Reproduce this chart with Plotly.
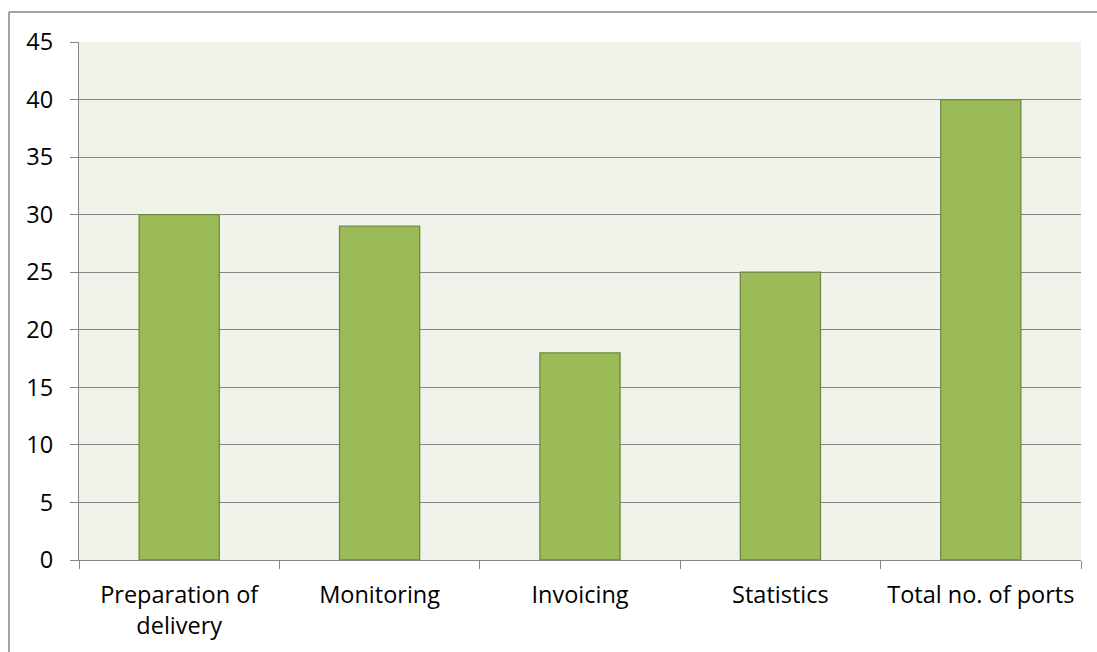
import plotly.graph_objects as go

categories = ["Preparation of<br>delivery", "Monitoring", "Invoicing", "Statistics", "Total no. of ports"]
values = [30, 29, 18, 25, 40]
y_ticks = [0, 5, 10, 15, 20, 25, 30, 35, 40, 45]

fig = go.Figure(go.Bar(
    x=categories, y=values,
    marker=dict(color="#9BBB59", line=dict(color="#71893F", width=1.3)),
    width=0.4,
))

font = dict(family="Open Sans, Lato, sans-serif", size=23.5, color="#000000")

x_border = (9 - 79) / 1002
y_border = (560 - 12) / 518

fig.update_layout(
    width=1097, height=652,
    margin=dict(l=79, r=16, t=42, b=92),
    paper_bgcolor="white",
    plot_bgcolor="#EFF3EA",
    font=font,
    showlegend=False,
    xaxis=dict(
        type="category", tickson="boundaries", ticks="outside", ticklen=8,
        tickcolor="#868686", showline=True, linecolor="#868686", linewidth=1.3,
        showgrid=False, tickfont=font, ticklabelstandoff=14,
    ),
    yaxis=dict(
        range=[0, 45], tickvals=y_ticks, ticks="outside", ticklen=8,
        tickcolor="#868686", showline=True, linecolor="#868686", linewidth=1.3,
        showgrid=True, gridcolor="#868686", gridwidth=1.3, zeroline=False,
        tickfont=font, ticklabelstandoff=12,
    ),
    shapes=[
        dict(type="line", xref="paper", yref="paper",
             x0=x_border, x1=x_border, y0=-0.5, y1=y_border,
             line=dict(color="#868686", width=1.5)),
        dict(type="line", xref="paper", yref="paper",
             x0=x_border, x1=1.2, y0=y_border, y1=y_border,
             line=dict(color="#868686", width=1.5)),
    ],
)

fig.write_html(
    "out.html",
    config={"displayModeBar": False},
    post_script="document.body.style.margin='0';document.documentElement.style.overflow='hidden';document.body.style.overflow='hidden';",
)
